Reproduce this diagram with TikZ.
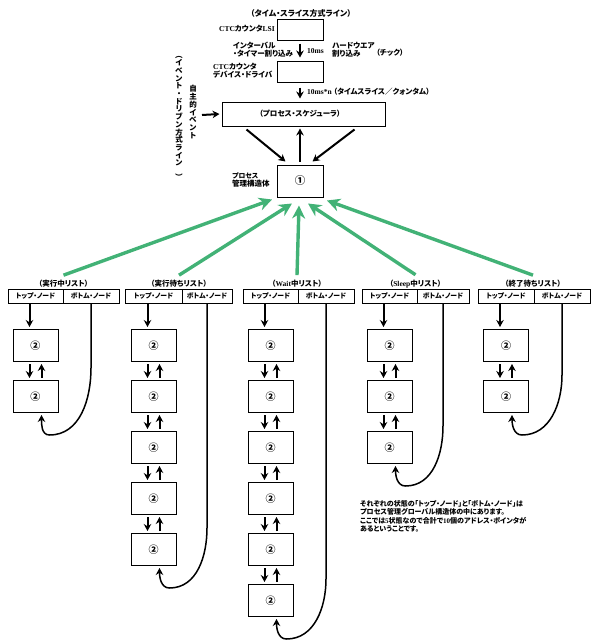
\documentclass[tikz,border=0pt]{standalone}
\usepackage{fontspec}
\setmainfont{Noto Sans CJK JP}[RawFeature=+palt]
\newfontfamily\lat{Liberation Serif}
\usetikzlibrary{arrows.meta}
\definecolor{grn}{RGB}{66,178,118}
\begin{document}
\begin{tikzpicture}[x=1pt,y=-1pt,
  txt/.style={inner sep=0pt, font=\fontsize{7.5}{8.2}\selectfont\bfseries},
  sbox/.style={draw, line width=1pt, inner sep=0pt, minimum width=46pt, minimum height=21pt},
  nbox/.style={draw, line width=1pt, inner sep=0pt, minimum width=45pt, minimum height=32pt, font=\fontsize{10}{10}\selectfont\bfseries},
  cell/.style={draw, line width=1pt, inner sep=0pt, minimum height=14pt, font=\fontsize{6.8}{7}\selectfont\bfseries},
  arr/.style={line width=2pt, -{Stealth[length=7pt,width=7.5pt]}},
  curv/.style={line width=1.5pt, -{Stealth[length=7pt,width=7.5pt]}},
  garr/.style={line width=3.4pt, draw=grn, -{Stealth[length=13pt,width=13pt]}}]
\useasboundingbox (0,0) rectangle (598,640);

% ---- top: time-slice line
\node[txt, font=\fontsize{8}{9}\selectfont\bfseries] (title) at (301,13) {（タイム・スライス方式ライン）};
\node[sbox] (lsi) at (300,29.5) {};
\node[txt, anchor=east] (lsil) at (275,29) {{\lat CTC}カウンタ{\lat LSI}};
\node[sbox] (drv) at (300,71.5) {};
\node[txt, anchor=west, align=left] (drvl) at (213,71) {{\lat CTC}カウンタ\\デバイス・ドライバ};
\draw[arr] ([yshift=-3pt]lsi.south) -- ([yshift=3pt]drv.north);
\node[txt, anchor=west, align=left] (intl) at (233,50) {インターバル\\・タイマー割り込み};
\node[txt, anchor=west] (tenms) at (307,51) {\lat 10ms};
\node[txt, anchor=west, align=left] (hwl) at (332,50) {ハードウエア\\割り込み};
\node[txt, anchor=west] (tick) at (376,53) {（チック）};

\node[draw, line width=1pt, minimum width=163pt, minimum height=24pt, inner sep=0pt,
      font=\fontsize{7.5}{8}\selectfont\bfseries] (sch) at (303.5,114) {（プロセス・スケジューラ）\hspace*{7pt}};
\draw[arr] ([yshift=-5pt]drv.south) -- ([yshift=3pt]drv.south |- sch.north);
\node[txt, anchor=west] (qnt) at (307,92) {{\lat 10ms*n} （タイムスライス／クォンタム）};

% ---- event-driven line
\node[txt, align=center, font=\fontsize{7.5}{7.8}\selectfont\bfseries] (evl) at (193,112) {自\\主\\的\\イ\\ベ\\ン\\ト};
\node[txt, align=center, font=\fontsize{7.5}{7.7}\selectfont\bfseries] (edl) at (179,116)
  {\rotatebox{-90}{（}\\イ\\ベ\\ン\\ト\\・\\ド\\リ\\ブ\\ン\\方\\式\\ラ\\イ\\ン\\\rotatebox{-90}{）}};
\coordinate (evs) at (202,115);
\draw[arr] (evs) -- ([xshift=-2pt]sch.west);

% ---- process management structure
\node[nbox, minimum width=46pt, font=\fontsize{10.5}{11}\selectfont\bfseries] (pcb) at (300,181) {①};
\node[txt, anchor=west, align=left] (pcbl) at (232,180) {{\fontsize{6.8}{7}\selectfont プロセス}\\管理構造体};
\draw[arr] ([xshift=25pt,yshift=-3pt]sch.south west) -- ([xshift=9pt,yshift=3pt]pcb.north west);
\draw[arr] ([yshift=3pt]pcb.north) -- ([yshift=-2pt]pcb.north |- sch.south);
\draw[arr] ([xshift=-31pt,yshift=-3pt]sch.south east) -- ([xshift=-11pt,yshift=3pt]pcb.north east);

% ---- list columns
% col 1
\node[txt] (l1) at (63.5,284) {（実行中リスト）};
\node[cell, minimum width=55pt] (t1) at (35.5,296) {トップ・ノード};
\node[cell, minimum width=56pt] (r1) at (91,296) {ボトム・ノード};
% col 2
\node[txt] (l2) at (179,284) {（実行待ちリスト）};
\node[cell, minimum width=57pt] (t2) at (153.5,296) {トップ・ノード};
\node[cell, minimum width=50pt] (r2) at (207,296) {ボトム・ノード};
% col 3
\node[txt] (l3) at (297,284) {（{\lat Wait}中リスト）};
\node[cell, minimum width=55pt] (t3) at (270.5,296) {トップ・ノード};
\node[cell, minimum width=56pt] (r3) at (326,296) {ボトム・ノード};
% col 4
\node[txt] (l4) at (415.5,284) {（{\lat Sleep}中リスト）};
\node[cell, minimum width=55pt] (t4) at (389.5,296) {トップ・ノード};
\node[cell, minimum width=52pt] (r4) at (443,296) {ボトム・ノード};
% col 5
\node[txt] (l5) at (533,284) {（終了待ちリスト）};
\node[cell, minimum width=56pt] (t5) at (506,296) {トップ・ノード};
\node[cell, minimum width=56pt] (r5) at (562,296) {ボトム・ノード};

\foreach \c/\n in {1/2,2/5,3/6,4/3,5/2}{
  \foreach \k in {1,...,\n}{
    \node[nbox] (b\c-\k) at ([yshift={-42pt-51pt*(\k-1)}]t\c.south) {②};
  }
  \draw[arr] ([xshift=-6pt]t\c.south) -- ([xshift=-6pt,yshift=2pt]b\c-1.north);
}
\foreach \c/\n in {1/2,2/5,3/6,4/3,5/2}{
  \foreach \k [evaluate=\k as \j using int(\k+1)] in {1,...,\n}{
    \ifnum\k<\n
      \draw[arr] ([xshift=-6pt,yshift=-2pt]b\c-\k.south) -- ([xshift=-6pt,yshift=2pt]b\c-\j.north);
      \draw[arr] ([xshift=6pt,yshift=2pt]b\c-\j.north) -- ([xshift=6pt,yshift=-2pt]b\c-\k.south);
    \fi
  }
}
% bottom-node curves
\draw[curv] (r1.south) -- ([yshift=45pt]r1.south |- b1-2.south) to[out=-90,in=0] ([xshift=14pt,yshift=-22pt]b1-2.south) to[out=180,in=-90] ([xshift=6pt,yshift=-2pt]b1-2.south);
\draw[curv] (r2.south) -- ([yshift=38pt]r2.south |- b2-5.south) to[out=-90,in=0] ([xshift=16pt,yshift=-22pt]b2-5.south) to[out=180,in=-90] ([xshift=6pt,yshift=-2pt]b2-5.south);
\draw[curv] (r3.south) -- ([yshift=38pt]r3.south |- b3-6.south) to[out=-90,in=0] ([xshift=16pt,yshift=-22pt]b3-6.south) to[out=180,in=-90] ([xshift=6pt,yshift=-2pt]b3-6.south);
\draw[curv] (r4.south) -- ([yshift=38pt]r4.south |- b4-3.south) to[out=-90,in=0] ([xshift=16pt,yshift=-22pt]b4-3.south) to[out=180,in=-90] ([xshift=6pt,yshift=-2pt]b4-3.south);
\draw[curv] (r5.south) -- ([yshift=38pt]r5.south |- b5-2.south) to[out=-90,in=0] ([xshift=16pt,yshift=-22pt]b5-2.south) to[out=180,in=-90] ([xshift=6pt,yshift=-2pt]b5-2.south);

% green arrows
\draw[garr] ([yshift=5pt]l1.north) -- ([xshift=-28pt,yshift=-2pt]pcb.south);
\draw[garr] ([yshift=5pt]l2.north) -- ([xshift=-8pt,yshift=-6pt]pcb.south);
\draw[garr] ([yshift=5pt]l3.north) -- ([xshift=-1pt,yshift=-8pt]pcb.south);
\draw[garr] ([yshift=5pt]l4.north) -- ([xshift=8pt,yshift=-6pt]pcb.south);
\draw[garr] ([yshift=5pt]l5.north) -- ([xshift=27pt,yshift=-3pt]pcb.south);

% note
\node[txt, anchor=north west, align=left, font=\fontsize{7}{8.4}\selectfont\bfseries] (note) at (360,500)
 {それぞれの状態の「トップ・ノード」と「ボトム・ノード」は\\プロセス管理グローバル構造体の中にあります。\\ここでは{\lat 5}状態なので合計で{\lat 10}個のアドレス・ポインタが\\あるということです。};
\end{tikzpicture}
\end{document}
